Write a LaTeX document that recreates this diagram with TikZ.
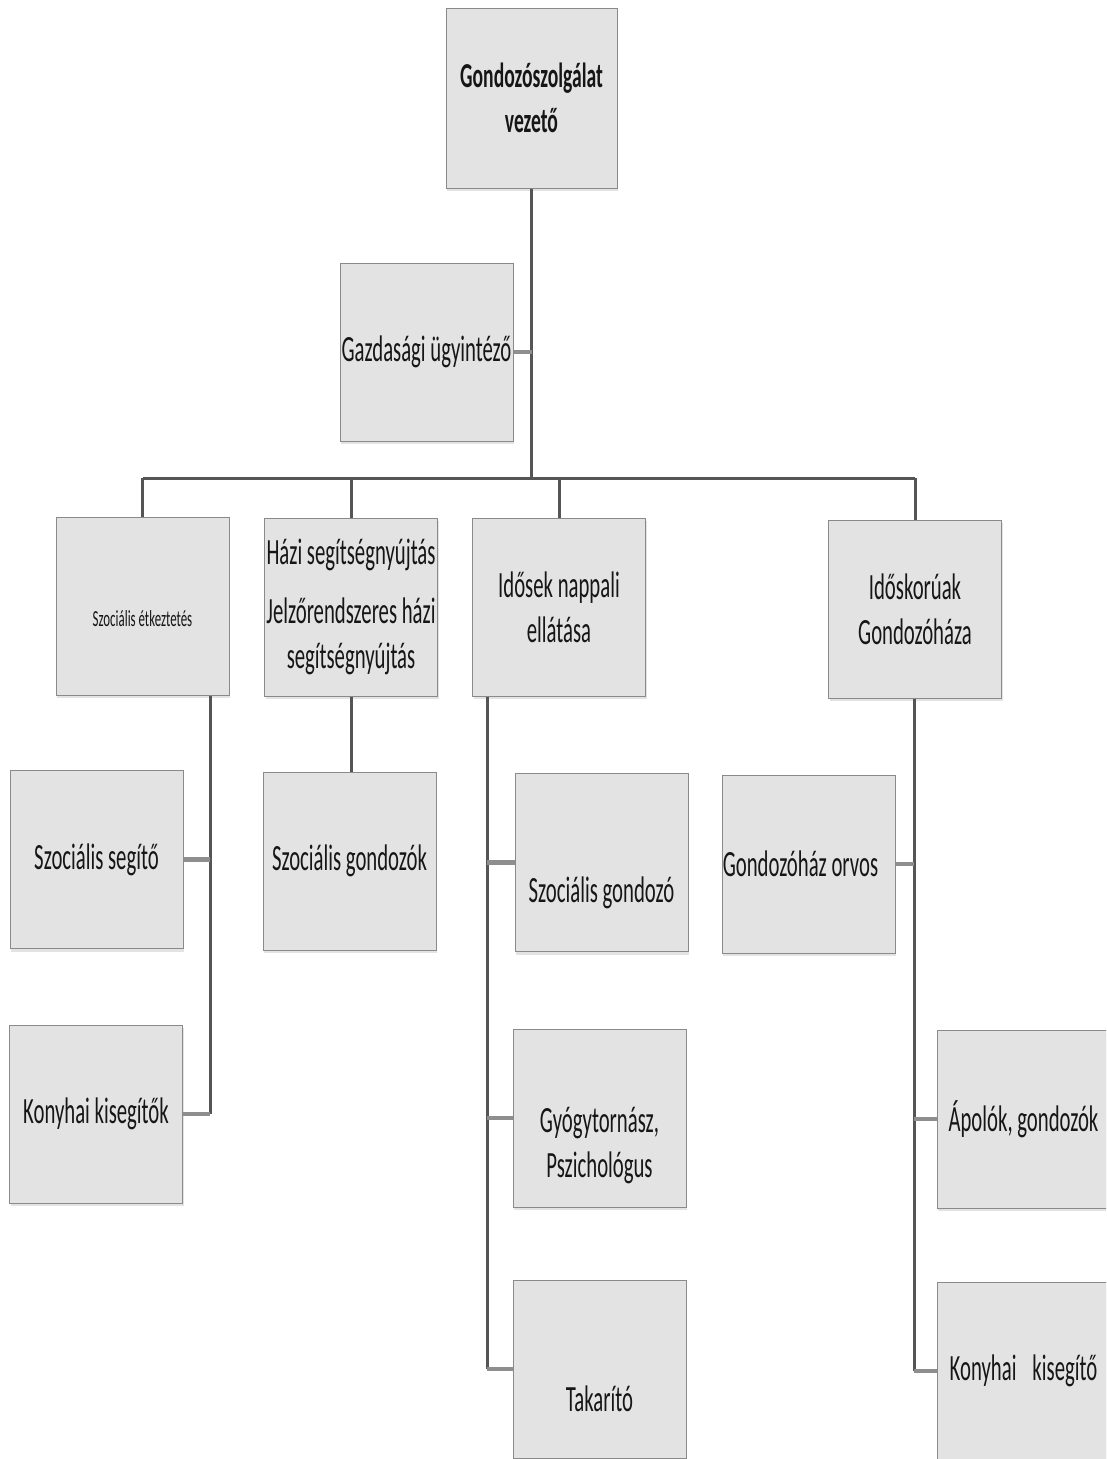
\documentclass[tikz,border=0pt]{standalone}
\usepackage{fontspec}
\setmainfont{Carlito}[FakeStretch=0.56]
\usetikzlibrary{shadows}
\definecolor{boxfill}{HTML}{E3E3E3}
\definecolor{boxline}{HTML}{8A8A8A}
\definecolor{linkc}{HTML}{555555}
\definecolor{stubc}{HTML}{8E8E8E}
\definecolor{txtc}{HTML}{161616}
\newcommand\lowtext[2]{\raisebox{#1}[\height][\depth]{\begin{tabular}{@{}c@{}}#2\end{tabular}}}
\begin{document}
\begin{tikzpicture}[x=1pt,y=-1pt,
  box/.style={draw=boxline, line width=1pt, fill=boxfill, minimum width=173pt, minimum height=178pt,
    inner sep=0pt, align=center, text=txtc, font=\fontsize{37}{45}\selectfont,
    drop shadow={opacity=0.22, shadow xshift=1pt, shadow yshift=-3pt}},
  link/.style={draw=linkc, line width=3pt},
  stub/.style={draw=stubc, line width=4.5pt}]
\useasboundingbox (0,0) rectangle (1106,1459);
\clip (0,0) rectangle (1106,1459);

% nodes
\node[box, minimum width=171pt, minimum height=180pt, font=\fontsize{35}{45}\selectfont\bfseries] (top) at (531.5,98) {Gondozószolgálat\\vezető};
\node[box] (gaz) at (426.5,352) {Gazdasági ügyintéző};
\node[box, font=\fontsize{23}{28}\selectfont] (se) at (142.5,606) {\lowtext{-15pt}{Szociális étkeztetés}};
\node[box] (hazi) at (351,607) {Házi segítségnyújtás\\[14pt]Jelzőrendszeres házi\\segítségnyújtás};
\node[box] (idos) at (559,607) {Idősek nappali\\ellátása};
\node[box] (idk) at (915,609) {Időskorúak\\Gondozóháza};
\node[box] (szseg) at (96.5,859.5) {Szociális segítő};
\node[box] (konyL) at (96,1114) {Konyhai kisegítők};
\node[box] (szgond) at (349.5,861) {Szociális gondozók};
\node[box] (szgo) at (601.5,862.5) {\lowtext{-31pt}{Szociális gondozó}};
\node[box] (gyogy) at (599.5,1118) {\lowtext{-28pt}{Gyógytornász,\\Pszichológus}};
\node[box] (tak) at (599.5,1369) {\lowtext{-33pt}{Takarító}};
\node[box] (orvos) at (808.5,864) {Gondozóház orvos\hspace*{16pt}};
\node[box] (apol) at (1023.5,1119) {Ápolók, gondozók};
\node[box] (konyR) at (1023.5,1371) {Konyhai\hspace{16pt}kisegítő};

% connectors
\coordinate (bus) at (531,478);
\coordinate (seV) at (210,0);
\coordinate (idosV) at (487,0);
\coordinate (idkV) at (914,0);

\draw[link] (top.south) -- (top.south |- bus);
\draw[link] (se.north |- bus) -- (idk.north |- bus);
\foreach \n in {se,hazi,idos,idk} \draw[link] (\n.north) -- (\n.north |- bus);
\draw[stub] (gaz.east) -- (gaz.east -| top.south);

\draw[link] (seV |- se.south) -- (seV |- konyL.east);
\draw[stub] (szseg.east) -- (szseg.east -| seV);
\draw[stub] (konyL.east) -- (konyL.east -| seV);

\draw[link] (hazi.south) -- (hazi.south |- szgond.north);

\draw[link] (idosV |- idos.south) -- (idosV |- tak.west);
\draw[stub] (szgo.west) -- (szgo.west -| idosV);
\draw[stub] (gyogy.west) -- (gyogy.west -| idosV);
\draw[stub] (tak.west) -- (tak.west -| idosV);

\draw[link] (idkV |- idk.south) -- (idkV |- konyR.west);
\draw[stub] (orvos.east) -- (orvos.east -| idkV);
\draw[stub] (apol.west) -- (apol.west -| idkV);
\draw[stub] (konyR.west) -- (konyR.west -| idkV);
\end{tikzpicture}
\end{document}
